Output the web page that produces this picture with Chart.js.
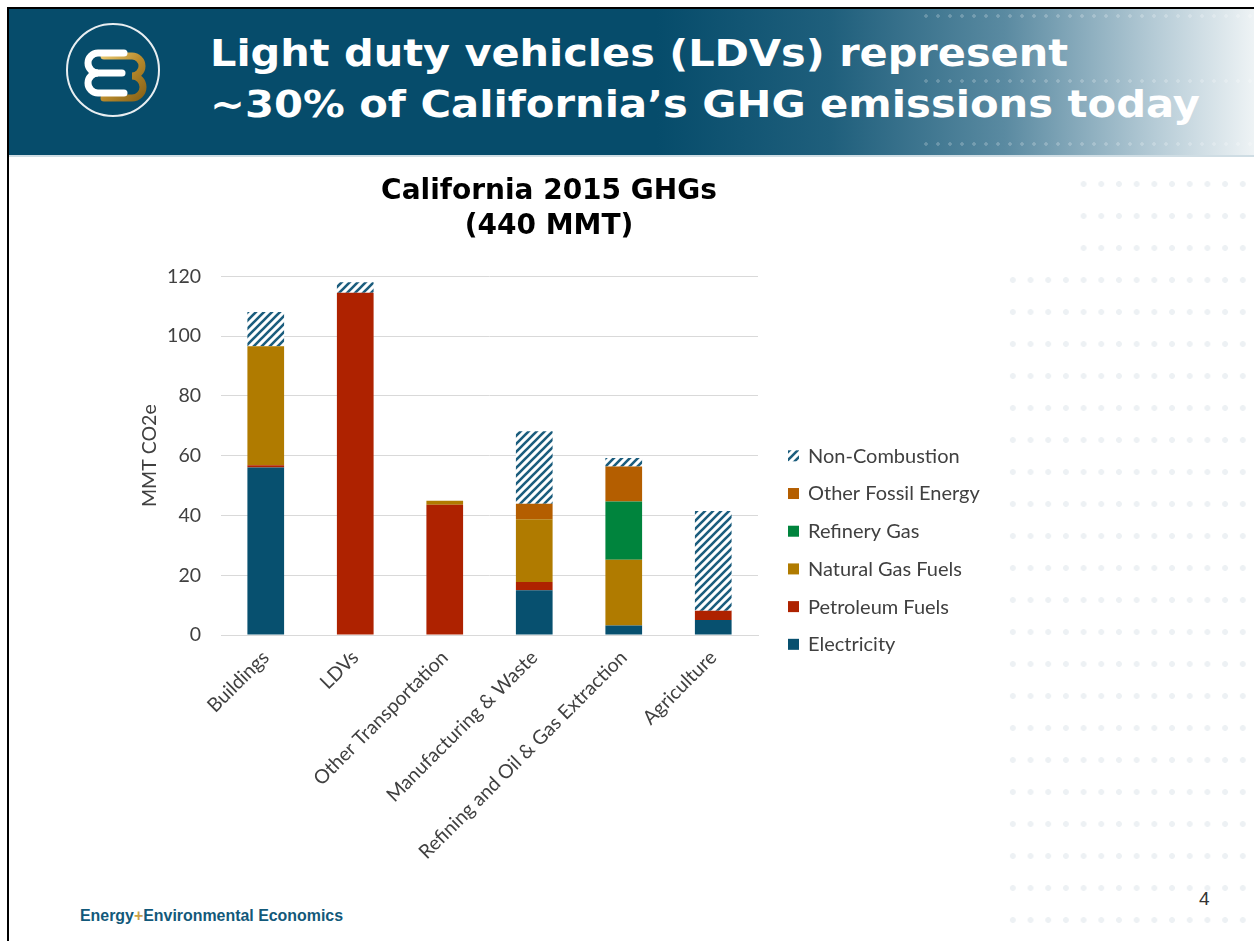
<!DOCTYPE html>
<html>
<head>
<meta charset="utf-8">
<script src="https://cdn.jsdelivr.net/npm/chart.js@4.4.1/dist/chart.umd.min.js"></script>
<style>
  html, body { margin: 0; padding: 0; background: #fff; }
  .slide { position: relative; width: 1254px; height: 941px; overflow: hidden; background: #fff; }
  .frame { position: absolute; left: 7px; top: 7px; width: 1300px; height: 1000px; border-left: 2px solid #000; border-top: 2px solid #000; }
  .header { position: absolute; left: 9px; top: 9px; width: 1245px; height: 146px;
    background: linear-gradient(90deg, #064c6b 0%, #064c6b 52%, #1f5f7c 66%, #5a8aa1 80%, #b5cbd6 92%, #eef3f5 100%);
    border-bottom: 2px solid #cfdde4; }
  .hdots { position: absolute; left: 920px; width: 334px; height: 6px;
    background-image: radial-gradient(circle, rgba(255,255,255,0.22) 1.5px, transparent 2px);
    background-size: 12px 6px; }
  .dots { position: absolute; left: 1000px; top: 168px; width: 254px; height: 760px;
    background-image: radial-gradient(circle, #edf1f4 2.6px, transparent 3.2px);
    background-size: 17.7px 32px; background-position: 4px 0; }
  .dotmask { position: absolute; left: 1000px; top: 160px; width: 80px; height: 100px; background: #fff; }
  #wrap { position: absolute; left: 118px; top: 170px; width: 862px; height: 700px; }
  .pnum { position: absolute; left: 1199px; top: 888px; font: 19px "Liberation Sans", sans-serif; color: #333; }
</style>
</head>
<body>
<div class="slide">
  <div class="header"></div>
  <div class="hdots" style="top:13px"></div>
  <div class="hdots" style="top:78px"></div>
  <div class="hdots" style="top:141px"></div>
  <div class="dots"></div>
  <div class="dotmask"></div>
  <svg style="position:absolute;left:0;top:0" width="1254" height="941">
    <!-- logo -->
    <defs>
      <linearGradient id="gold" x1="0" x2="1" y1="0" y2="1">
        <stop offset="0" stop-color="#e6c46a"/>
        <stop offset="0.5" stop-color="#b88a2c"/>
        <stop offset="1" stop-color="#8a6418"/>
      </linearGradient>
    </defs>
    <circle cx="113" cy="70" r="46" fill="none" stroke="#e8eef1" stroke-width="2"/>
    <path d="M104 98 h28 a11 11 0 0 0 0 -22 a10 10 0 0 0 0 -20 h-28" fill="none" stroke="url(#gold)" stroke-width="7" stroke-linecap="round"/>
    <path d="M124 53 h-26 a10 10 0 0 0 0 20 a10 10 0 0 0 0 20 h26" fill="none" stroke="#ffffff" stroke-width="7" stroke-linecap="round"/>
    <line x1="95" y1="73" x2="122" y2="73" stroke="#fff" stroke-width="7" stroke-linecap="round"/>
    <!-- header title -->
    <text x="210" y="66" font-family="DejaVu Sans" font-weight="bold" font-size="38" fill="#fff"
      textLength="858" lengthAdjust="spacingAndGlyphs">Light duty vehicles (LDVs) represent</text>
    <text x="210" y="117" font-family="DejaVu Sans" font-weight="bold" font-size="38" fill="#fff"
      textLength="990" lengthAdjust="spacingAndGlyphs">~30% of California’s GHG emissions today</text>
    <!-- footer -->
    <text x="80" y="921" font-family="Liberation Sans Narrow, Liberation Sans" font-weight="bold" font-size="16" fill="#12597a"
      textLength="263" lengthAdjust="spacingAndGlyphs">Energy<tspan fill="#c9a24a">+</tspan>Environmental Economics</text>
  </svg>
  <div class="frame"></div>
  <div class="pnum">4</div>
  <div id="wrap"><canvas id="chart"></canvas></div>
</div>
<script>
const categories = ['Buildings', 'LDVs', 'Other Transportation', 'Manufacturing & Waste', 'Refining and Oil & Gas Extraction', 'Agriculture'];
const electricity   = [56, 0, 0, 15, 3.2, 5];
const petroleum     = [0.8, 114.5, 43.6, 2.7, 0, 3.1];
const naturalGas    = [39.8, 0, 1.3, 21, 22, 0];
const refineryGas   = [0, 0, 0, 0, 19.5, 0];
const otherFossil   = [0, 0, 0, 5.2, 11.7, 0];
const nonCombustion = [11.5, 3.5, 0, 24.3, 2.8, 33.4];
const yTicks = [0, 20, 40, 60, 80, 100, 120];

const ctx = document.getElementById('chart').getContext('2d');

// diagonal hatch for the non-combustion series
function hatch() {
  const c = document.createElement('canvas');
  c.width = 8; c.height = 8;
  const g = c.getContext('2d');
  g.fillStyle = '#ffffff';
  g.fillRect(0, 0, 8, 8);
  g.strokeStyle = '#1b5d7d';
  g.lineWidth = 2.6;
  g.beginPath();
  g.moveTo(0, 8); g.lineTo(8, 0);
  g.moveTo(-2, 2); g.lineTo(2, -2);
  g.moveTo(6, 10); g.lineTo(10, 6);
  g.stroke();
  return ctx.createPattern(c, 'repeat');
}

const FONT = 'Lato, "Open Sans", sans-serif';

// legend drawn to the right, top entry = top of stack
const sideLegend = {
  id: 'sideLegend',
  afterDraw(chart) {
    const g = chart.ctx;
    const area = chart.chartArea;
    const x = area.right + 30;
    let y = area.top + 179;
    const sets = chart.data.datasets.slice().reverse();
    g.save();
    g.font = '20px ' + FONT;
    g.textBaseline = 'middle';
    sets.forEach(ds => {
      g.fillStyle = ds.backgroundColor;
      g.fillRect(x, y - 5, 11, 11);
      g.fillStyle = '#404040';
      g.fillText(ds.label, x + 20, y + 1);
      y += 37.7;
    });
    g.restore();
  }
};

new Chart(ctx, {
  type: 'bar',
  data: {
    labels: categories,
    datasets: [
      { label: 'Electricity', data: electricity, backgroundColor: '#07506f' },
      { label: 'Petroleum Fuels', data: petroleum, backgroundColor: '#ae2200' },
      { label: 'Natural Gas Fuels', data: naturalGas, backgroundColor: '#b07b00' },
      { label: 'Refinery Gas', data: refineryGas, backgroundColor: '#00843d' },
      { label: 'Other Fossil Energy', data: otherFossil, backgroundColor: '#b45e00' },
      { label: 'Non-Combustion', data: nonCombustion, backgroundColor: hatch() },
    ],
  },
  options: {
    responsive: true,
    maintainAspectRatio: false,
    animation: false,
    layout: { padding: 0 },
    datasets: { bar: { barPercentage: 0.41, categoryPercentage: 1, borderWidth: 0 } },
    plugins: {
      legend: { display: false },
      tooltip: { enabled: false },
      title: {
        display: true,
        text: ['California 2015 GHGs', '(440 MMT)'],
        color: '#000',
        font: { family: 'DejaVu Sans', weight: 'bold', size: 28, lineHeight: 1.22 },
        padding: { top: 5, bottom: 33 },
      },
    },
    scales: {
      x: {
        stacked: true,
        grid: { display: false },
        border: { color: '#d9d9d9' },
        afterFit: axis => { axis.height = 235; axis.paddingLeft = 0; axis.paddingRight = 0; },
        ticks: { autoSkip: false, minRotation: 45, maxRotation: 45, color: '#404040', font: { family: FONT, size: 19.5 } },
      },
      y: {
        stacked: true,
        min: 0,
        max: 120,
        afterBuildTicks: axis => { axis.ticks = yTicks.map(v => ({ value: v })); },
        afterFit: axis => { axis.width = 103; },
        grid: { color: '#d9d9d9', drawTicks: false },
        border: { display: false },
        ticks: { color: '#404040', padding: 20, font: { family: FONT, size: 19.5 } },
        title: { display: true, text: 'MMT CO2e', color: '#404040', font: { family: FONT, size: 19.5 }, padding: { top: 20, bottom: 4 } },
      },
      // empty right-hand box that leaves room for the legend
      room: {
        position: 'right',
        grid: { display: false },
        border: { display: false },
        ticks: { display: false },
        afterFit: axis => { axis.width = 222; },
      },
    },
  },
  plugins: [sideLegend],
});
</script>
</body>
</html>
